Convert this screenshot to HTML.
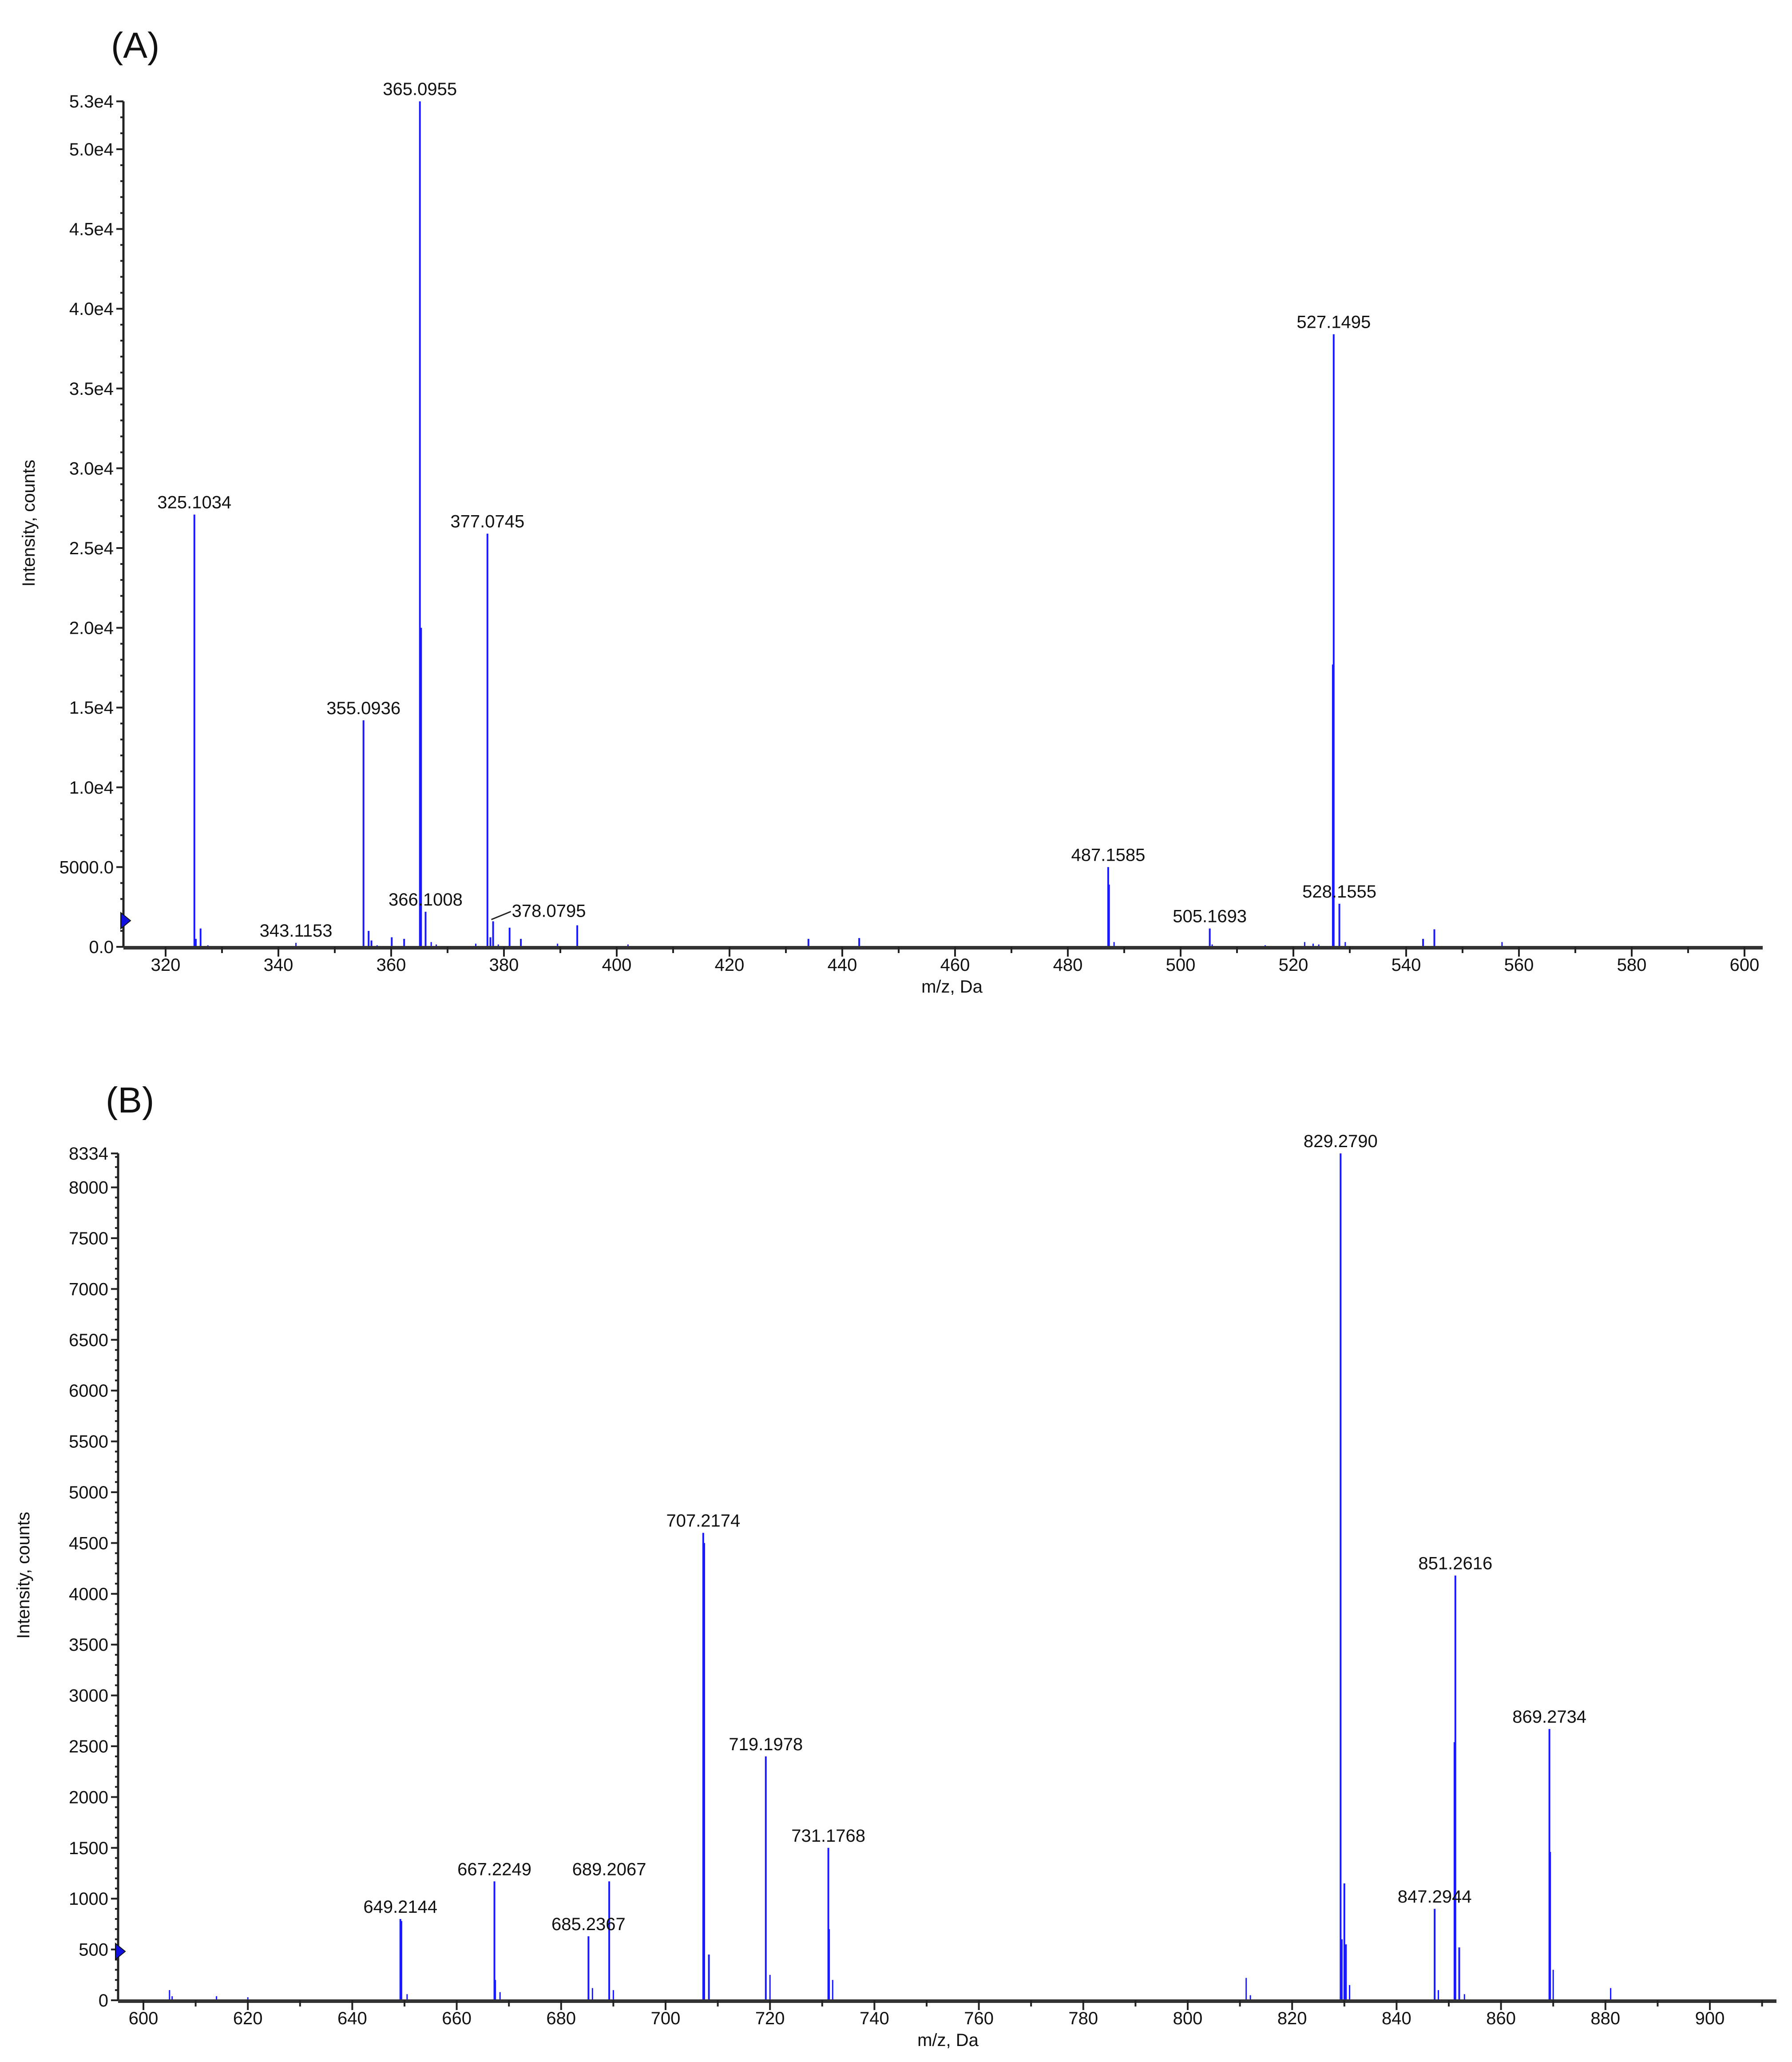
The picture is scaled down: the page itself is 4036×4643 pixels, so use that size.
<!DOCTYPE html>
<html><head><meta charset="utf-8"><style>
html,body{margin:0;padding:0;background:#fff;}
svg{display:block;}
text{font-family:"Liberation Sans",sans-serif;fill:#111;}
</style></head><body>
<svg id="chart" width="4036" height="4643" viewBox="0 0 4036 4643" xmlns="http://www.w3.org/2000/svg">
<rect width="4036" height="4643" fill="#fff"/>
<text x="250" y="130" font-size="82">(A)</text>
<text x="238" y="2505" font-size="82">(B)</text>
</svg>
<script>
// Panel A data
const aMz = [325.1034,325.35,326.2,327.5,343.1153,355.0936,356.0,356.5,357.5,360.1,362.3,365.0955,365.3,366.1008,367.1,368.0,375.0,377.0745,377.6,378.0795,379.0,381.0,383.0,389.5,393.0,402.0,434.0,443.0,487.1585,487.3,488.2,505.1693,505.6,515.0,522.0,523.5,524.5,527.0,527.1495,528.1555,529.2,543.0,545.0,557.0];
const aInt = [27100,500,1150,100,250,14200,1000,400,100,600,500,53000,20000,2200,300,150,200,25900,600,1600,150,1200,500,200,1350,150,500,550,5000,3900,300,1150,150,100,300,200,150,17700,38400,2700,300,500,1100,300];
const aLabels = ["325.1034","343.1153","355.0936","365.0955","366.1008","377.0745","487.1585","505.1693","527.1495","528.1555"];
const aXTicks = [320,340,360,380,400,420,440,460,480,500,520,540,560,580,600];
const aYTicks = [0,5000,10000,15000,20000,25000,30000,35000,40000,45000,50000,53000];
const aYTickLabels = ["0.0","5000.0","1.0e4","1.5e4","2.0e4","2.5e4","3.0e4","3.5e4","4.0e4","4.5e4","5.0e4","5.3e4"];
// Panel B data
const bMz = [605.0,605.5,614.0,620.0,649.2144,649.4,650.5,667.2249,667.4,668.3,685.2367,686.0,689.2067,690.0,707.2174,707.4,708.3,719.1978,720.0,731.1768,731.3,732.0,811.2,812.0,829.279,829.5,830.0,830.3,831.0,847.2944,848.0,851.1,851.2616,852.0,853.0,869.2734,869.4,870.0,881.0];
const bInt = [100,40,40,30,800,780,60,1170,200,80,630,120,1170,100,4600,4500,450,2400,250,1500,700,200,220,50,8334,600,1150,550,150,900,100,2540,4180,520,60,2670,1460,300,120];
const bLabels = ["649.2144","667.2249","685.2367","689.2067","707.2174","719.1978","731.1768","829.2790","847.2944","851.2616","869.2734"];
const bXTicks = [600,620,640,660,680,700,720,740,760,780,800,820,840,860,880,900];
const bYTicks = [0,500,1000,1500,2000,2500,3000,3500,4000,4500,5000,5500,6000,6500,7000,7500,8000,8334];

const NS="http://www.w3.org/2000/svg";
const svg=document.getElementById('chart');
function mk(tag,attrs,parent){const e=document.createElementNS(NS,tag);for(const k in attrs)e.setAttribute(k,attrs[k]);(parent||svg).appendChild(e);return e;}

function panel(cfg){
  const g=mk('g',{});
  
  
  const X=m=>cfg.x0+(m-cfg.m0)*cfg.kx;
  const Y=v=>cfg.y0-v*cfg.ky;
  cfg.mz.forEach((m,i)=>{
    const l=mk('line',{x1:X(m),x2:X(m),y1:cfg.y0,y2:Y(cfg.int[i]),stroke:'#1a1aff','stroke-width':cfg.int[i]>300?4:3},g);
    
    
  });
  const ya=mk('line',{x1:cfg.axL,x2:cfg.axL,y1:cfg.y0,y2:Y(cfg.ymax),stroke:'#222','stroke-width':5},g);
  
  
  const xa=mk('line',{x1:cfg.axL,x2:cfg.axR,y1:cfg.y0+2,y2:cfg.y0+2,stroke:'#333','stroke-width':8},g);
  
  
  for(let m=Math.ceil(cfg.mMin/10)*10;m<=cfg.mMax;m+=10){
    const major=cfg.xTicks.includes(m);
    mk('line',{x1:X(m),x2:X(m),y1:cfg.y0,y2:cfg.y0+(major?22:14),stroke:'#222','stroke-width':4},g);
  }
  cfg.xTicks.forEach(m=>{
    const t=mk('text',{x:X(m),y:cfg.y0+54,'font-size':40,'text-anchor':'middle'},g);
    t.textContent=m;
    
    
  });
  for(let v=0;v<=cfg.ymax;v+=cfg.minor){
    mk('line',{x1:cfg.axL-7,x2:cfg.axL,y1:Y(v),y2:Y(v),stroke:'#222','stroke-width':4},g);
  }
  cfg.yTicks.forEach((v,i)=>{
    mk('line',{x1:cfg.axL-16,x2:cfg.axL,y1:Y(v),y2:Y(v),stroke:'#222','stroke-width':4},g);
    const t=mk('text',{x:cfg.axL-22,y:Y(v)+14,'font-size':40,'text-anchor':'end'},g);
    t.textContent=cfg.yTickLabels?cfg.yTickLabels[i]:v;
    
    
  });
  cfg.labels.forEach(s=>{
    const m=parseFloat(s);
    let best=0,bi=0;
    cfg.mz.forEach((mm,i)=>{if(Math.abs(mm-m)<0.05&&cfg.int[i]>best){best=cfg.int[i];bi=i;}});
    const t=mk('text',{x:X(m),y:Y(cfg.int[bi])-14,'font-size':40,'text-anchor':'middle'},g);
    t.textContent=s;
    
    
  });
  const tri=mk('polygon',{points:`${cfg.axL-6},${cfg.mk-18} ${cfg.axL+16},${cfg.mk} ${cfg.axL-6},${cfg.mk+18}`,fill:'#1010e0',stroke:'#111','stroke-width':2},g);
  
  
  const xt=mk('text',{x:cfg.xtX,y:cfg.xtY,'font-size':40,'text-anchor':'middle'},g);
  xt.textContent='m/z, Da';
  
  
  const yt=mk('text',{x:0,y:0,'font-size':40,'text-anchor':'middle',transform:`translate(${cfg.ytX},${cfg.ytY}) rotate(-90)`},g);
  yt.textContent='Intensity, counts';
  
  
  return {X,Y};
}

const A=panel({name:'panel-a-spectrum',mz:aMz,int:aInt,labels:aLabels,
  x0:373,m0:320,kx:12.7,y0:2132,ky:0.03592,ymax:53000,minor:1000,
  axL:278,axR:3970,mMin:313,mMax:603,xTicks:aXTicks,yTicks:aYTicks,yTickLabels:aYTickLabels,
  mk:2073,xtX:2144,xtY:2235,ytX:78,ytY:1178});
const lab=mk('text',{x:A.X(378.0795)+42,y:A.Y(1600)-10,'font-size':40},svg);
lab.textContent='378.0795';


const ld=mk('line',{x1:A.X(378.0795)-4,y1:A.Y(1600)-4,x2:A.X(378.0795)+40,y2:A.Y(1600)-22,stroke:'#222','stroke-width':3},svg);



panel({name:'panel-b-spectrum',mz:bMz,int:bInt,labels:bLabels,
  x0:323,m0:600,kx:11.76,y0:4504,ky:0.2288,ymax:8334,minor:100,
  axL:266,axR:4001,mMin:596,mMax:915,xTicks:bXTicks,yTicks:bYTicks,
  mk:4394,xtX:2135,xtY:4607,ytX:66,ytY:3547});
</script>
</body></html>
